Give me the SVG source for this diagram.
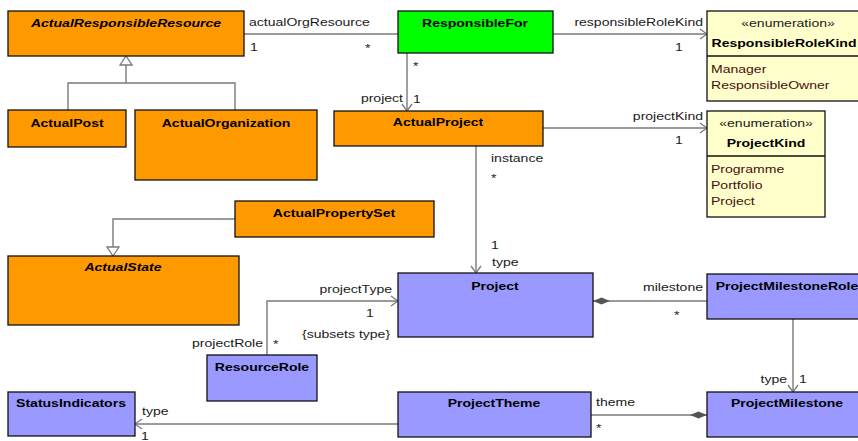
<svg xmlns="http://www.w3.org/2000/svg" width="858" height="441" viewBox="0 0 858 441">
<style>
.box{stroke:#111;stroke-width:1.3}
.or{fill:#FF9900}.bl{fill:#9999FF}.gr{fill:#00FF00}.en{fill:#FFFFCC}
.ln{fill:none;stroke:#7a7a7a;stroke-width:1.4}
text{font-family:"Liberation Sans",Arial,sans-serif;font-size:11.7px;fill:#1a1a1a}
.t{font-weight:bold;text-anchor:middle;fill:#000}
.i{font-style:italic}
.e{text-anchor:end}
.m{text-anchor:middle}
.at{fill:#4a0d0d}
</style>
<defs>
<marker id="arr" markerUnits="userSpaceOnUse" markerWidth="9" markerHeight="12" viewBox="-1 -1 9 12" refX="7" refY="5" orient="auto"><path d="M0,0 L7,5 L0,10" fill="none" stroke="#7a7a7a" stroke-width="1.3"/></marker>
<marker id="gen" markerUnits="userSpaceOnUse" markerWidth="11" markerHeight="14" viewBox="-1 -1 11 14" refX="9" refY="6" orient="auto"><path d="M0,0 L9,6 L0,12 Z" fill="#fff" stroke="#7a7a7a" stroke-width="1.3"/></marker>
<marker id="dia" markerUnits="userSpaceOnUse" markerWidth="18" markerHeight="9" viewBox="0 0 18 9" refX="0" refY="4.5" orient="auto"><path d="M0,4.5 L8.5,1 L17,4.5 L8.5,8 Z" fill="#555"/></marker>
</defs>

<g id="connectors">
<path class="ln" d="M244,34 H398"/>
<path class="ln" d="M553,34 H707" marker-end="url(#arr)"/>
<path class="ln" d="M407,53 V111" marker-end="url(#arr)"/>
<path class="ln" d="M543,128 H707" marker-end="url(#arr)"/>
<path class="ln" d="M476,146 V273" marker-end="url(#arr)"/>
<path class="ln" d="M68,110 V83 H235 V110"/>
<path class="ln" d="M126,83 V56" marker-end="url(#gen)"/>
<path class="ln" d="M235,219 H113 V256" marker-end="url(#gen)"/>
<path class="ln" d="M267,355 V301 H398" marker-end="url(#arr)"/>
<path class="ln" d="M593,301 H707" marker-start="url(#dia)"/>
<path class="ln" d="M793,319 V392" marker-end="url(#arr)"/>
<path class="ln" d="M707,415 H591" marker-start="url(#dia)"/>
<path class="ln" d="M398,424 H135" marker-end="url(#arr)"/>

<text transform="translate(249,26) scale(1.2,1)">actualOrgResource</text>
<text transform="translate(250,51) scale(1.2,1)">1</text>
<text transform="translate(365,52) scale(1.2,1)">*</text>
<text class="e" transform="translate(703,26) scale(1.2,1)">responsibleRoleKind</text>
<text transform="translate(675,51) scale(1.2,1)">1</text>
<text transform="translate(413,70) scale(1.2,1)">*</text>
<text class="e" transform="translate(403,102) scale(1.2,1)">project</text>
<text transform="translate(413,103) scale(1.2,1)">1</text>
<text class="e" transform="translate(703,120) scale(1.2,1)">projectKind</text>
<text transform="translate(675,144) scale(1.2,1)">1</text>
<text transform="translate(491,162) scale(1.2,1)">instance</text>
<text transform="translate(491,182) scale(1.2,1)">*</text>
<text transform="translate(491,249) scale(1.2,1)">1</text>
<text transform="translate(492,266) scale(1.2,1)">type</text>
<text class="e" transform="translate(392,293) scale(1.2,1)">projectType</text>
<text transform="translate(366,317) scale(1.2,1)">1</text>
<text transform="translate(302,338) scale(1.2,1)">{subsets type}</text>
<text class="e" transform="translate(263,347) scale(1.2,1)">projectRole</text>
<text transform="translate(273,348) scale(1.2,1)">*</text>
<text class="e" transform="translate(703,291) scale(1.2,1)">milestone</text>
<text transform="translate(674,319) scale(1.2,1)">*</text>
<text class="e" transform="translate(787,383) scale(1.2,1)">type</text>
<text transform="translate(799,383) scale(1.2,1)">1</text>
<text transform="translate(596,406) scale(1.2,1)">theme</text>
<text transform="translate(596,432) scale(1.2,1)">*</text>
<text transform="translate(142,415) scale(1.2,1)">type</text>
<text transform="translate(141,440) scale(1.2,1)">1</text>
</g>

<g id="ActualResponsibleResource">
<rect class="box or" x="8" y="11" width="236" height="45"/>
<text class="t i" transform="translate(126,27) scale(1.2,1)">ActualResponsibleResource</text>
</g>
<g id="ResponsibleFor">
<rect class="box gr" x="398" y="11" width="155" height="42"/>
<text class="t" transform="translate(475,27) scale(1.2,1)">ResponsibleFor</text>
</g>
<g id="ResponsibleRoleKind">
<rect class="box en" x="707" y="11" width="162" height="90"/>
<line class="box" x1="707" y1="56" x2="869" y2="56"/>
<text class="m" transform="translate(788,27) scale(1.2,1)">«enumeration»</text>
<text class="t" transform="translate(784,47) scale(1.2,1)">ResponsibleRoleKind</text>
<text class="at" transform="translate(711,73) scale(1.2,1)">Manager</text>
<text class="at" transform="translate(711,89) scale(1.2,1)">ResponsibleOwner</text>
</g>
<g id="ActualPost">
<rect class="box or" x="8" y="110" width="118" height="37"/>
<text class="t" transform="translate(67,127) scale(1.2,1)">ActualPost</text>
</g>
<g id="ActualOrganization">
<rect class="box or" x="135" y="110" width="182" height="70"/>
<text class="t" transform="translate(226,127) scale(1.2,1)">ActualOrganization</text>
</g>
<g id="ActualProject">
<rect class="box or" x="334" y="111" width="209" height="35"/>
<text class="t" transform="translate(438,126) scale(1.2,1)">ActualProject</text>
</g>
<g id="ProjectKind">
<rect class="box en" x="707" y="111" width="118" height="106"/>
<line class="box" x1="707" y1="156" x2="825" y2="156"/>
<text class="m" transform="translate(766,127) scale(1.2,1)">«enumeration»</text>
<text class="t" transform="translate(766,147) scale(1.2,1)">ProjectKind</text>
<text class="at" transform="translate(711,173) scale(1.2,1)">Programme</text>
<text class="at" transform="translate(711,189) scale(1.2,1)">Portfolio</text>
<text class="at" transform="translate(711,205) scale(1.2,1)">Project</text>
</g>
<g id="ActualPropertySet">
<rect class="box or" x="235" y="201" width="199" height="36"/>
<text class="t" transform="translate(334,217) scale(1.2,1)">ActualPropertySet</text>
</g>
<g id="ActualState">
<rect class="box or" x="8" y="256" width="231" height="69"/>
<text class="t i" transform="translate(123,271) scale(1.2,1)">ActualState</text>
</g>
<g id="Project">
<rect class="box bl" x="398" y="273" width="195" height="64"/>
<text class="t" transform="translate(495,290) scale(1.2,1)">Project</text>
</g>
<g id="ProjectMilestoneRole">
<rect class="box bl" x="707" y="274" width="162" height="45"/>
<text class="t" transform="translate(787,290) scale(1.2,1)">ProjectMilestoneRole</text>
</g>
<g id="ResourceRole">
<rect class="box bl" x="207" y="355" width="110" height="46"/>
<text class="t" transform="translate(262,371) scale(1.2,1)">ResourceRole</text>
</g>
<g id="StatusIndicators">
<rect class="box bl" x="8" y="392" width="127" height="44"/>
<text class="t" transform="translate(71,407) scale(1.2,1)">StatusIndicators</text>
</g>
<g id="ProjectTheme">
<rect class="box bl" x="398" y="392" width="193" height="45"/>
<text class="t" transform="translate(494,407) scale(1.2,1)">ProjectTheme</text>
</g>
<g id="ProjectMilestone">
<rect class="box bl" x="707" y="392" width="162" height="45"/>
<text class="t" transform="translate(787,407) scale(1.2,1)">ProjectMilestone</text>
</g>
</svg>
